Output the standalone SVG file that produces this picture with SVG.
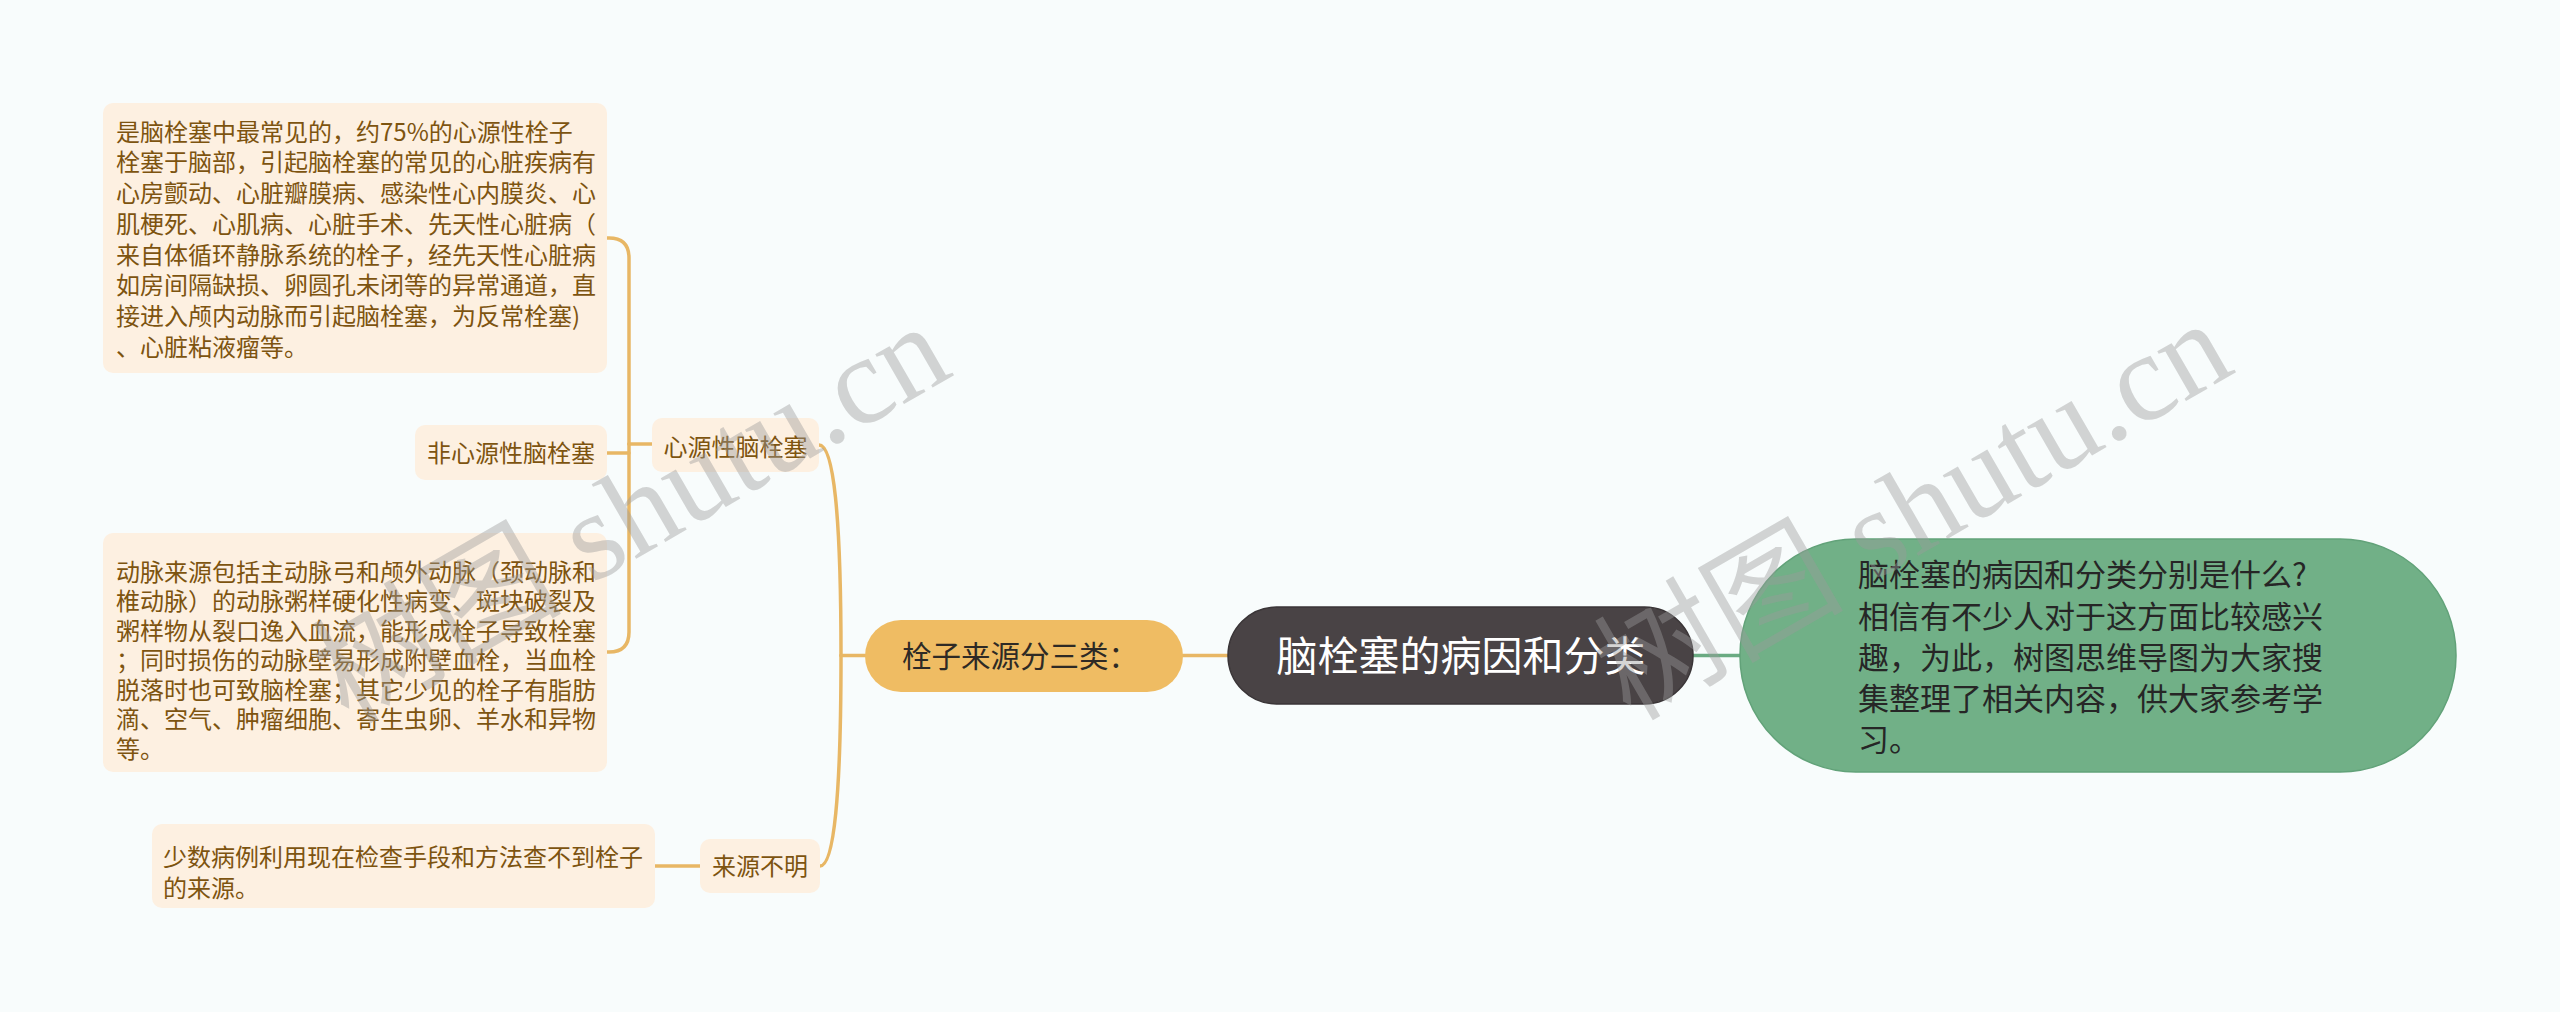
<svg xmlns="http://www.w3.org/2000/svg" width="2560" height="1012" viewBox="0 0 2560 1012">
<style>
.t{font-family:"Noto Sans CJK SC","Noto Sans",sans-serif;font-size:24px;fill:#7d5410}
.box{fill:#fdf0e1}
.gold{fill:none;stroke:#e8b765;stroke-width:3.5;stroke-linecap:round}
.wm{font-family:"Liberation Serif","Noto Sans CJK SC",serif;font-size:125px;fill:#9a9a9a;fill-opacity:0.42}
</style>
<rect x="0" y="0" width="2560" height="1012" fill="#f8fcfc"/>
<g id="connectors">
<path class="gold" d="M652 444 L629 444"/>
<path class="gold" d="M629 444 L629 258 Q629 238 609 238 L607 238"/>
<path class="gold" d="M629 444 L629 632 Q629 652 609 652 L607 652"/>
<path class="gold" d="M629 453 L607 453"/>
<path class="gold" d="M865 655.5 L841 655.5"/>
<path class="gold" d="M841 655.5 Q841 445 819 445"/>
<path class="gold" d="M841 655.5 Q841 866 820 866"/>
<path class="gold" d="M655 866 L700 866"/>
<path class="gold" d="M1183 655.5 L1228 655.5"/>
<path d="M1693 655.5 L1740 655.5" fill="none" stroke="#6aab82" stroke-width="3.5"/>
</g>
<g id="node-box1">
<rect class="box" x="103" y="103" width="504" height="270" rx="10"/>
<text class="t" x="116">
<tspan x="116" y="140.7">是脑栓塞中最常见的，约75%的心源性栓子</tspan>
<tspan x="116" y="171.4">栓塞于脑部，引起脑栓塞的常见的心脏疾病有</tspan>
<tspan x="116" y="202.1">心房颤动、心脏瓣膜病、感染性心内膜炎、心</tspan>
<tspan x="116" y="232.8">肌梗死、心肌病、心脏手术、先天性心脏病（</tspan>
<tspan x="116" y="263.5">来自体循环静脉系统的栓子，经先天性心脏病</tspan>
<tspan x="116" y="294.2">如房间隔缺损、卵圆孔未闭等的异常通道，直</tspan>
<tspan x="116" y="324.9">接进入颅内动脉而引起脑栓塞，为反常栓塞)</tspan>
<tspan x="116" y="355.6">、心脏粘液瘤等。</tspan>
</text>
</g>
<g id="node-feixinyuan">
<rect class="box" x="415" y="425" width="192" height="55" rx="10"/>
<text class="t" x="511" y="461.5" text-anchor="middle">非心源性脑栓塞</text>
</g>
<g id="node-xinyuan">
<rect class="box" x="652" y="418" width="167" height="54" rx="10"/>
<text class="t" x="735.5" y="456" text-anchor="middle">心源性脑栓塞</text>
</g>
<g id="node-box3">
<rect class="box" x="103" y="533" width="504" height="239" rx="10"/>
<text class="t">
<tspan x="116" y="580.5">动脉来源包括主动脉弓和颅外动脉（颈动脉和</tspan>
<tspan x="116" y="610">椎动脉）的动脉粥样硬化性病变、斑块破裂及</tspan>
<tspan x="116" y="639.5">粥样物从裂口逸入血流，能形成栓子导致栓塞</tspan>
<tspan x="116" y="669">；同时损伤的动脉壁易形成附壁血栓，当血栓</tspan>
<tspan x="116" y="698.5">脱落时也可致脑栓塞；其它少见的栓子有脂肪</tspan>
<tspan x="116" y="728">滴、空气、肿瘤细胞、寄生虫卵、羊水和异物</tspan>
<tspan x="116" y="757.5">等。</tspan>
</text>
</g>
<g id="node-box4">
<rect class="box" x="152" y="824" width="503" height="84" rx="10"/>
<text class="t">
<tspan x="163" y="866">少数病例利用现在检查手段和方法查不到栓子</tspan>
<tspan x="163" y="897">的来源。</tspan>
</text>
</g>
<g id="node-laiyuanbuming">
<rect class="box" x="700" y="839" width="120" height="54" rx="10"/>
<text class="t" x="760" y="875" text-anchor="middle">来源不明</text>
</g>
<g id="node-shuanzi">
<rect x="865" y="620" width="318" height="72" rx="36" fill="#efbc63"/>
<text x="902" y="667" font-family="Noto Sans CJK SC, sans-serif" font-size="29.5" fill="#2e2a25">栓子来源分三类：</text>
</g>
<g id="node-root">
<rect x="1228" y="607" width="465" height="97" rx="48.5" fill="#494345" stroke="#3a3537" stroke-width="1.5"/>
<text x="1461" y="671" text-anchor="middle" font-family="Noto Sans CJK SC, sans-serif" font-size="41" fill="#ffffff">脑栓塞的病因和分类</text>
</g>
<g id="node-intro">
<rect x="1740" y="539" width="716" height="233" rx="116" fill="#71b087" stroke="#62a279" stroke-width="1.5"/>
<text font-family="Noto Sans CJK SC, sans-serif" font-size="31" fill="#262626">
<tspan x="1858" y="586.3">脑栓塞的病因和分类分别是什么?</tspan>
<tspan x="1858" y="627.5">相信有不少人对于这方面比较感兴</tspan>
<tspan x="1858" y="668.8">趣，为此，树图思维导图为大家搜</tspan>
<tspan x="1858" y="710">集整理了相关内容，供大家参考学</tspan>
<tspan x="1858" y="751.3">习。</tspan>
</text>
</g>
<g id="watermarks">
<text class="wm" x="632" y="555" text-anchor="middle" transform="rotate(-30 632 515)">树图 shutu.cn</text>
<text class="wm" x="1914" y="552" text-anchor="middle" transform="rotate(-30 1914 512)">树图 shutu.cn</text>
</g>
</svg>
